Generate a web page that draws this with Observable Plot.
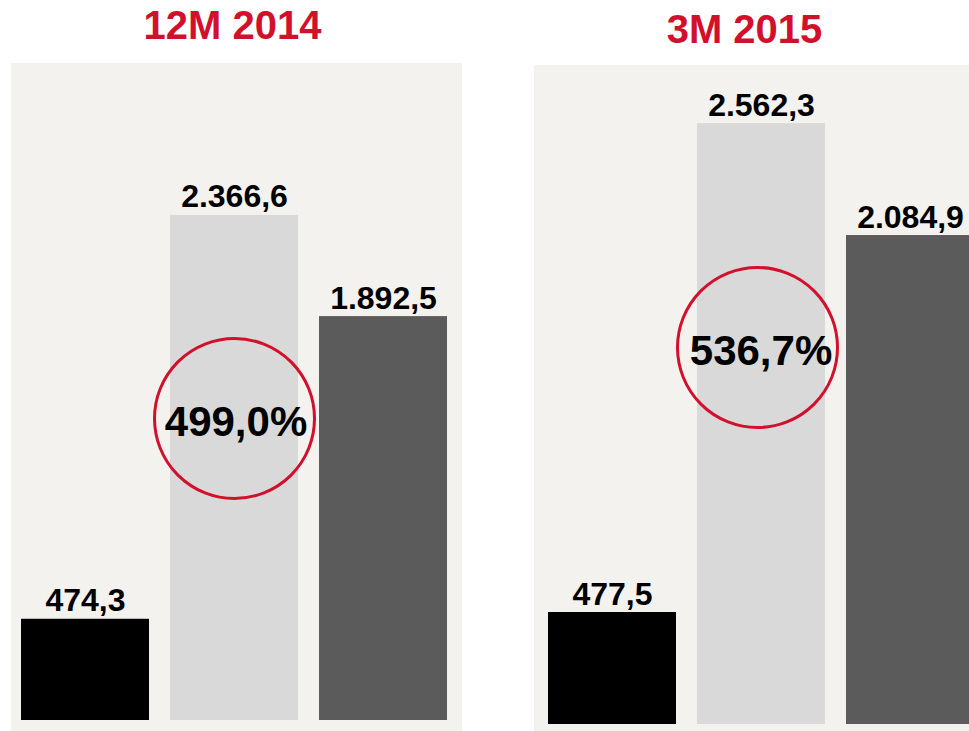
<!DOCTYPE html>
<html>
<head>
<meta charset="utf-8">
<script src="https://cdn.jsdelivr.net/npm/d3@7"></script>
<script src="https://cdn.jsdelivr.net/npm/@observablehq/plot@0.6"></script>
<style>
  html, body { margin: 0; padding: 0; background: #ffffff; overflow: hidden; }
  #root { position: relative; width: 969px; height: 731px; overflow: hidden; font-family: "Liberation Sans", Arial, sans-serif; }
  .title { position: absolute; font-size: 40px; line-height: 40px; font-weight: bold; color: #d2102c; text-align: center; white-space: nowrap; }
  .panel { position: absolute; }
</style>
</head>
<body>
<div id="root"></div>
<script>
// ---- data ----
const periods = ["12M 2014", "3M 2015"];
const categories = ["Requerido", "Disponível", "Excedente"];
const values2014 = [474.3, 2366.6, 1892.5];
const values2015 = [477.5, 2562.3, 2084.9];
const ratios = [499.0, 536.7];

const locale = d3.formatLocale({decimal: ",", thousands: ".", grouping: [3], currency: ["", ""]});
const fmtValue = locale.format(",.1f");
const fmtPct = v => locale.format(".1f")(v) + "%";

const root = document.getElementById("root");

function addTitle(text, centerX, top) {
  const d = document.createElement("div");
  d.className = "title";
  d.textContent = text;
  d.style.left = (centerX - 150) + "px";
  d.style.width = "300px";
  d.style.top = top + "px";
  root.appendChild(d);
}

function panel(values, ratio, cfg) {
  const data = categories.map((c, i) => ({cat: c, value: values[i]}));
  const svg = Plot.plot({
    width: cfg.width,
    height: cfg.height,
    marginLeft: cfg.marginLeft,
    marginRight: cfg.marginRight,
    marginTop: cfg.marginTop,
    marginBottom: cfg.marginBottom,
    style: {background: "#f3f2ee", fontFamily: "'Liberation Sans', Arial, sans-serif", maxWidth: "none", overflow: "visible"},
    x: {domain: categories, axis: null, paddingInner: 0.144, paddingOuter: 0},
    y: {domain: [0, cfg.ymax], axis: null},
    color: {domain: categories, range: ["#000000", "#d9d9d9", "#5b5b5b"]},
    marks: [
      Plot.barY(data, {x: "cat", y: "value", fill: "cat"}),
      Plot.text(data, {x: "cat", y: "value", text: d => fmtValue(d.value), lineAnchor: "bottom", dy: -8, fontSize: 32, fontWeight: "bold", fill: "#000"}),
      Plot.dot([ratio], {x: () => categories[1], r: 80, stroke: "#d2102c", strokeWidth: 3, fill: "none", dx: cfg.circleDx, dy: cfg.circleDy}),
      Plot.text([ratio], {x: () => categories[1], text: d => fmtPct(d), fontSize: 42, fontWeight: "bold", fill: "#000", dx: cfg.textDx, dy: cfg.textDy})
    ]
  });
  const wrap = document.createElement("div");
  wrap.className = "panel";
  wrap.style.left = cfg.left + "px";
  wrap.style.top = cfg.top + "px";
  wrap.appendChild(svg);
  root.appendChild(wrap);
}

addTitle(periods[0], 232.5, 5);
addTitle(periods[1], 744.5, 9);

panel(values2014, ratios[0], {
  left: 11, top: 63, width: 451, height: 668,
  marginLeft: 9, marginRight: 15, marginTop: 21, marginBottom: 11,
  ymax: 2980, circleDx: 0, circleDy: 16, textDx: 1.5, textDy: 20
});

panel(values2015, ratios[1], {
  left: 534, top: 65, width: 441, height: 666,
  marginLeft: 13, marginRight: 1, marginTop: 7, marginBottom: 7,
  ymax: 2780, circleDx: -4, circleDy: -51, textDx: -0.5, textDy: -47
});
</script>
</body>
</html>
